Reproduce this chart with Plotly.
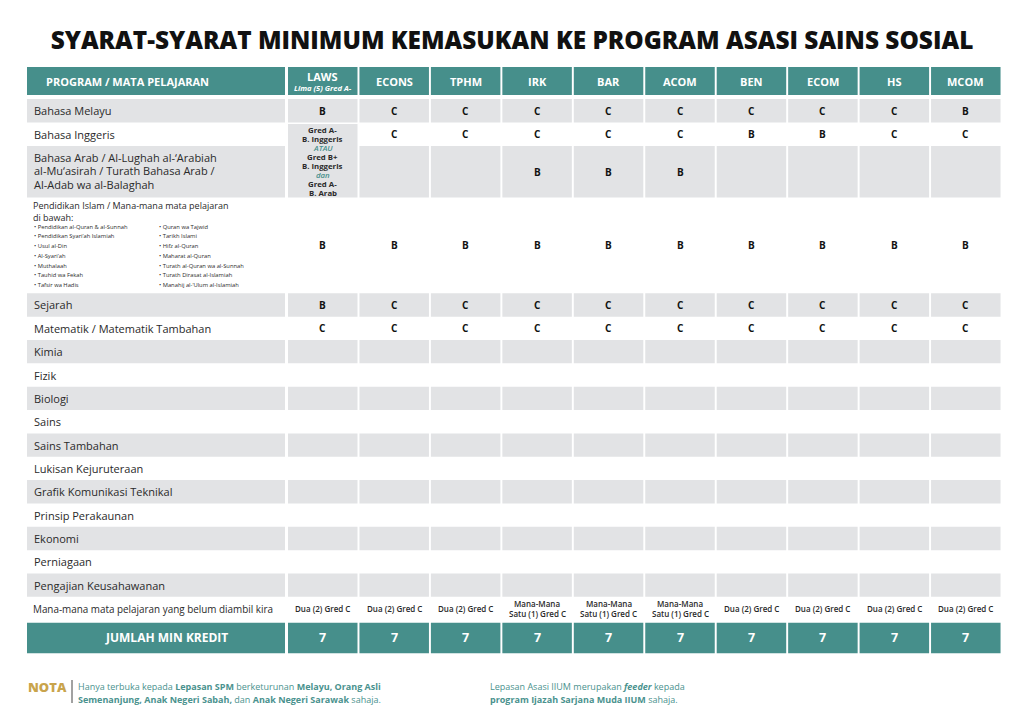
import plotly.graph_objects as go

# ---------------- DATA ----------------
title_text = "SYARAT-SYARAT MINIMUM KEMASUKAN KE PROGRAM ASASI SAINS SOSIAL"
header_label = "PROGRAM / MATA PELAJARAN"
programs = ["LAWS", "ECONS", "TPHM", "IRK", "BAR", "ACOM", "BEN", "ECOM", "HS", "MCOM"]
program_notes = ["Lima (5) Gred A-", "", "", "", "", "", "", "", "", ""]

subjects = [
    "Bahasa Melayu",
    "Bahasa Inggeris",
    "Bahasa Arab / Al-Lughah al-‘Arabiah<br>al-Mu‘asirah / Turath Bahasa Arab /<br>Al-Adab wa al-Balaghah",
    "Pendidikan Islam / Mana-mana mata pelajaran<br>di bawah:",
    "Sejarah",
    "Matematik / Matematik Tambahan",
    "Kimia",
    "Fizik",
    "Biologi",
    "Sains",
    "Sains Tambahan",
    "Lukisan Kejuruteraan",
    "Grafik Komunikasi Teknikal",
    "Prinsip Perakaunan",
    "Ekonomi",
    "Perniagaan",
    "Pengajian Keusahawanan",
    "Mana-mana mata pelajaran yang belum diambil kira",
]

islam_list_left = [
    "• Pendidikan al-Quran & al-Sunnah",
    "• Pendidikan Syari‘ah Islamiah",
    "• Usul al-Din",
    "• Al-Syari‘ah",
    "• Muthalaah",
    "• Tauhid wa Fekah",
    "• Tafsir wa Hadis",
]
islam_list_right = [
    "• Quran wa Tajwid",
    "• Tarikh Islami",
    "• Hifz al-Quran",
    "• Maharat al-Quran",
    "• Turath al-Quran wa al-Sunnah",
    "• Turath Dirasat al-Islamiah",
    "• Manahij al-‘Ulum al-Islamiah",
]

laws_english_lines = ["Gred A-", "B. Inggeris", "ATAU", "Gred B+", "B. Inggeris", "dan", "Gred A-", "B. Arab"]
laws_connector_words = ["ATAU", "dan"]

g_bahasa_melayu = ["B", "C", "C", "C", "C", "C", "C", "C", "C", "B"]
g_bahasa_inggeris = ["", "C", "C", "C", "C", "C", "B", "B", "C", "C"]
g_bahasa_arab = ["", "", "", "B", "B", "B", "", "", "", ""]
g_pendidikan_islam = ["B", "B", "B", "B", "B", "B", "B", "B", "B", "B"]
g_sejarah = ["B", "C", "C", "C", "C", "C", "C", "C", "C", "C"]
g_matematik = ["C", "C", "C", "C", "C", "C", "C", "C", "C", "C"]
g_empty = ["", "", "", "", "", "", "", "", "", ""]
g_mana_mana = ["Dua (2) Gred C", "Dua (2) Gred C", "Dua (2) Gred C",
               "Mana-Mana<br>Satu (1) Gred C", "Mana-Mana<br>Satu (1) Gred C", "Mana-Mana<br>Satu (1) Gred C",
               "Dua (2) Gred C", "Dua (2) Gred C", "Dua (2) Gred C", "Dua (2) Gred C"]
grades = [g_bahasa_melayu, g_bahasa_inggeris, g_bahasa_arab, g_pendidikan_islam,
          g_sejarah, g_matematik] + [g_empty] * 11 + [g_mana_mana]

total_label = "JUMLAH MIN KREDIT"
min_credits = [7, 7, 7, 7, 7, 7, 7, 7, 7, 7]

nota_label = "NOTA"
nota_left = [
    "Hanya terbuka kepada <b>Lepasan SPM</b> berketurunan <b>Melayu, Orang Asli</b>",
    "<b>Semenanjung, Anak Negeri Sabah,</b> dan <b>Anak Negeri Sarawak</b> sahaja.",
]
nota_right = [
    "Lepasan Asasi IIUM merupakan <b><i>feeder</i></b> kepada",
    "<b>program Ijazah Sarjana Muda IIUM</b> sahaja.",
]

# ---------------- STYLE / LAYOUT CONSTANTS ----------------
W, H = 1024, 714
TEAL = "#468f8b"
GRAY = "#e2e3e5"
GOLD = "#c9a44c"
NOTE_TEAL = "#4a928e"
DARK = "#2a2a2a"
FONT = "Open Sans"

LABEL_X0, LABEL_X1 = 27, 285
COL_X0, COL_PITCH, COL_W = 288, 71.45, 69.5

HEADER_TOP, HEADER_H = 67, 28
row_tops = [99, 122.5, 146, 197.5]
row_heights = [23.5, 23.5, 51.5, 95.8]
PITCH = 23.35
for k in range(14):
    row_tops.append(293.3 + k * PITCH)
    row_heights.append(PITCH)
TOTAL_TOP, TOTAL_H = 622.7, 30.5

def col_center(i):
    return COL_X0 + i * COL_PITCH + COL_W / 2

LABEL_CX = (LABEL_X0 + LABEL_X1) / 2
LABEL_W = LABEL_X1 - LABEL_X0

# ---------------- CELLS (bars) ----------------
cx, cw, cb, ch, cc = [], [], [], [], []

def add_cell(x, w, base, h, color):
    cx.append(x); cw.append(w); cb.append(base); ch.append(h); cc.append(color)

add_cell(LABEL_CX, LABEL_W, HEADER_TOP, HEADER_H, TEAL)
for i in range(len(programs)):
    add_cell(col_center(i), COL_W, HEADER_TOP, HEADER_H, TEAL)

for r in range(len(subjects)):
    gray = (r % 2 == 0)
    if gray:
        add_cell(LABEL_CX, LABEL_W, row_tops[r], row_heights[r], GRAY)
    for i in range(len(programs)):
        if i == 0 and r == 1:
            top = row_tops[1] + 1.5
            add_cell(col_center(0), COL_W, top, row_tops[2] + row_heights[2] - top, GRAY)
            continue
        if i == 0 and r == 2:
            continue
        if gray:
            add_cell(col_center(i), COL_W, row_tops[r], row_heights[r], GRAY)

add_cell(LABEL_CX, LABEL_W, TOTAL_TOP, TOTAL_H, TEAL)
for i in range(len(programs)):
    add_cell(col_center(i), COL_W, TOTAL_TOP, TOTAL_H, TEAL)

fig = go.Figure(go.Bar(
    x=cx, y=ch, base=cb, width=cw,
    marker=dict(color=cc, line=dict(width=0)),
    hoverinfo="skip", showlegend=False,
))

# ---------------- TEXT ----------------
ann = []

def text(x, y, t, size, color=DARK, xanchor="center", weight=None, family=FONT, align="center"):
    f = dict(size=size, color=color, family=family)
    if weight is not None:
        f["weight"] = weight
    ann.append(dict(x=x, y=y, xref="x", yref="y", text=t, showarrow=False,
                    xanchor=xanchor, yanchor="middle", align=align, font=f))

# header
text(44, HEADER_TOP + HEADER_H / 2, header_label, 11, "white", xanchor="left", weight="bold")
for i, p in enumerate(programs):
    if program_notes[i]:
        text(col_center(i), 76, p, 11, "white", weight="bold")
        text(col_center(i), 87.8, "<i>" + program_notes[i] + "</i>", 7.6, "white", weight="bold")
    else:
        text(col_center(i), HEADER_TOP + HEADER_H / 2, p, 11, "white", weight="bold")

# subject labels
for r, s in enumerate(subjects):
    yc = row_tops[r] + row_heights[r] / 2
    if r == 3:
        lines = s.split("<br>")
        text(31, 205.5, lines[0], 9, xanchor="left")
        text(31, 217.5, lines[1], 9, xanchor="left")
        for k in range(len(islam_list_left)):
            yy = 226.7 + k * 9.7
            text(31.5, yy, islam_list_left[k], 5.8, xanchor="left")
            text(156.5, yy, islam_list_right[k], 5.8, xanchor="left")
    elif r == 2:
        lines = s.split("<br>")
        for k, ln in enumerate(lines):
            text(32, 157 + k * 13.5, ln, 11, xanchor="left")
    elif r == len(subjects) - 1:
        text(31, yc, s, 9.9, xanchor="left")
    else:
        text(32, yc, s, 11, xanchor="left")

    for i, g in enumerate(grades[r]):
        if not g:
            continue
        if r == len(subjects) - 1:
            parts = g.split("<br>")
            if len(parts) == 1:
                text(col_center(i), yc, g, 8, weight=600)
            else:
                text(col_center(i), yc - 4.8, parts[0], 8, weight=600)
                text(col_center(i), yc + 4.8, parts[1], 8, weight=600)
        else:
            text(col_center(i), yc, g, 10, "#111111", weight="bold")

# LAWS merged English/Arabic cell
for k, ln in enumerate(laws_english_lines):
    yy = 130 + k * 9.0
    if ln in laws_connector_words:
        text(col_center(0), yy, "<i>" + ln + "</i>", 7.8, TEAL, weight=600)
    else:
        text(col_center(0), yy, ln, 7.8, DARK, weight="bold")

# totals
text(166, TOTAL_TOP + TOTAL_H / 2, total_label, 12, "white", weight="bold")
for i, v in enumerate(min_credits):
    text(col_center(i), TOTAL_TOP + TOTAL_H / 2, str(v), 12.5, "white", weight="bold")

# nota
text(25.5, 686.7, nota_label, 13, GOLD, xanchor="left", weight=800)
for k, ln in enumerate(nota_left):
    text(75.5, 686.5 + k * 12.8, ln, 9, NOTE_TEAL, xanchor="left", align="left")
for k, ln in enumerate(nota_right):
    text(487.5, 686.5 + k * 12.8, ln, 9, NOTE_TEAL, xanchor="left", align="left")

fig.update_layout(
    width=W, height=H,
    margin=dict(l=0, r=0, t=0, b=0),
    paper_bgcolor="white", plot_bgcolor="white",
    barmode="overlay",
    xaxis=dict(range=[0, W], visible=False, fixedrange=True),
    yaxis=dict(range=[H, 0], visible=False, fixedrange=True),
    annotations=ann,
    title=dict(text=title_text, x=0.5, xanchor="center", y=1 - 40 / H, yanchor="middle",
               font=dict(family=FONT, size=24.4, color="#111111", weight=800)),
    shapes=[dict(type="line", xref="x", yref="y", x0=72, x1=72, y0=680, y1=703,
                 line=dict(color="#444444", width=1))],
)

fig.write_html("out.html", config={"displayModeBar": False, "staticPlot": True},
               post_script="document.body.style.margin='0';document.body.style.overflow='hidden';")
